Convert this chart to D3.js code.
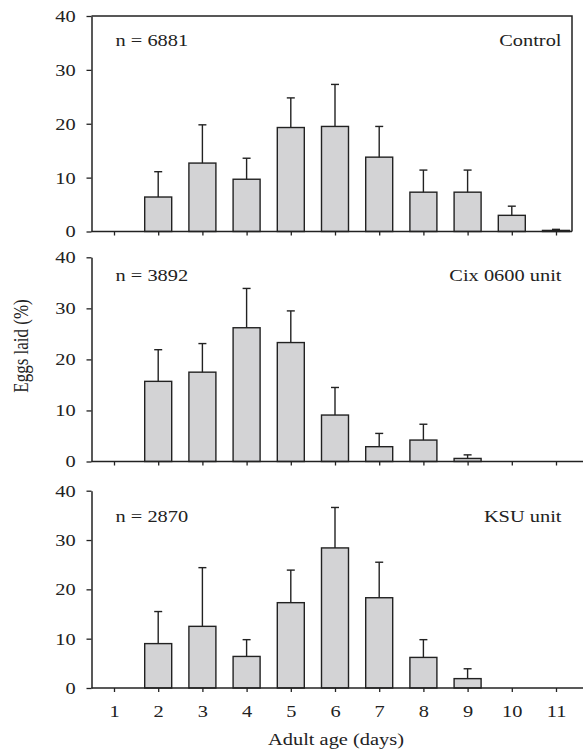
<!DOCTYPE html>
<html>
<head>
<meta charset="utf-8">
<script src="https://cdn.jsdelivr.net/npm/d3@7"></script>
<style>
  body { margin: 0; background: #fff; }
  text { font-family: "Liberation Serif", "Times New Roman", serif; fill: #222; }
</style>
</head>
<body>
<script>
// data
var days = ['1','2','3','4','5','6','7','8','9','10','11'];
var yTicks = [0, 10, 20, 30, 40];

var controlMean = [0, 6.4, 12.7, 9.7, 19.3, 19.5, 13.8, 7.3, 7.3, 3.0, 0.2];
var controlSd   = [0, 4.7, 7.1, 3.9, 5.5, 7.8, 5.7, 4.1, 4.1, 1.7, 0.2];

var cixMean = [0, 15.7, 17.5, 26.2, 23.3, 9.1, 2.9, 4.2, 0.6, 0, 0];
var cixSd   = [0, 6.2, 5.6, 7.7, 6.2, 5.4, 2.6, 3.1, 0.7, 0, 0];

var ksuMean = [0, 9.0, 12.5, 6.4, 17.3, 28.4, 18.3, 6.2, 1.9, 0, 0];
var ksuSd   = [0, 6.5, 11.9, 3.4, 6.6, 8.2, 7.2, 3.6, 2.0, 0, 0];

var panelNames = ['Control', 'Cix 0600 unit', 'KSU unit'];
var panelN = ['n = 6881', 'n = 3892', 'n = 2870'];

var W = 583, H = 752;
var ink = '#222';
var stretch = 'scale(1.2,1)';

var svg = d3.select('body').append('svg')
  .attr('width', W)
  .attr('height', H);

var x = d3.scalePoint().domain(days).range([114, 556]);
var barW = 27;
var left = 91.5;

var panels = [
  {mean: controlMean, sd: controlSd, top: 16, bottom: 231.5, right: 572, box: true, labelY: 46},
  {mean: cixMean, sd: cixSd, top: 257.3, bottom: 461.5, right: 583, box: false, labelY: 281},
  {mean: ksuMean, sd: ksuSd, top: 490.7, bottom: 688, right: 583, box: false, labelY: 521.5}
];

panels.forEach(function(p, i){
  var y = d3.scaleLinear().domain([0, 40]).range([p.bottom, p.top]);
  var data = days.map(function(d, j){ return {day: d, mean: p.mean[j], sd: p.sd[j]}; })
    .filter(function(d){ return d.mean > 0; });
  var g = svg.append('g');

  // bars
  g.selectAll('rect.bar').data(data).enter().append('rect')
    .attr('class', 'bar')
    .attr('x', function(d){ return x(d.day) - barW/2; })
    .attr('y', function(d){ return y(d.mean); })
    .attr('width', barW)
    .attr('height', function(d){ return y(0) - y(d.mean); })
    .attr('fill', '#d3d3d5')
    .attr('stroke', ink)
    .attr('stroke-width', 1.4);

  // error bars (upper only)
  g.selectAll('line.err').data(data).enter().append('line')
    .attr('class', 'err')
    .attr('x1', function(d){ return x(d.day); })
    .attr('x2', function(d){ return x(d.day); })
    .attr('y1', function(d){ return y(d.mean); })
    .attr('y2', function(d){ return y(d.mean + d.sd); })
    .attr('stroke', ink)
    .attr('stroke-width', 1.4);
  g.selectAll('line.cap').data(data).enter().append('line')
    .attr('class', 'cap')
    .attr('x1', function(d){ return x(d.day) - 4; })
    .attr('x2', function(d){ return x(d.day) + 4; })
    .attr('y1', function(d){ return y(d.mean + d.sd); })
    .attr('y2', function(d){ return y(d.mean + d.sd); })
    .attr('stroke', ink)
    .attr('stroke-width', 1.4);

  // y axis
  var ya = g.append('g')
    .attr('transform', 'translate(' + left + ',0)')
    .call(d3.axisLeft(y).tickValues(yTicks).tickSize(5).tickSizeOuter(0).tickPadding(8.2));
  ya.select('.domain').attr('stroke', ink).attr('stroke-width', 1.5);
  ya.selectAll('.tick line').attr('stroke', ink).attr('stroke-width', 1.3);
  ya.selectAll('.tick text')
    .attr('font-size', 17)
    .attr('font-family', '"Liberation Serif", serif')
    .attr('fill', ink)
    .attr('transform', stretch);

  // x axis
  var xa = g.append('g')
    .attr('transform', 'translate(0,' + p.bottom + ')')
    .call(d3.axisBottom(x).tickSize(4).tickSizeOuter(0).tickPadding(13)
      .tickFormat(i === 2 ? null : function(){ return ''; }));
  xa.select('.domain').remove();
  xa.selectAll('.tick line').attr('stroke', ink).attr('stroke-width', 1.3);
  xa.selectAll('.tick text')
    .attr('font-size', 17)
    .attr('font-family', '"Liberation Serif", serif')
    .attr('fill', ink)
    .attr('transform', stretch);
  g.append('line')
    .attr('x1', left).attr('x2', p.right)
    .attr('y1', p.bottom).attr('y2', p.bottom)
    .attr('stroke', ink).attr('stroke-width', 1.6);

  if (p.box) {
    g.append('path')
      .attr('d', 'M' + left + ',' + p.top + 'H' + p.right + 'V' + p.bottom)
      .attr('fill', 'none')
      .attr('stroke', ink)
      .attr('stroke-width', 1.5);
  }

  // panel labels
  g.append('text')
    .attr('transform', 'translate(115.5,' + p.labelY + ') ' + stretch)
    .attr('font-size', 17)
    .text(panelN[i]);
  g.append('text')
    .attr('transform', 'translate(561.5,' + p.labelY + ') ' + stretch)
    .attr('text-anchor', 'end')
    .attr('font-size', 17)
    .text(panelNames[i]);
});

// axis titles
svg.append('text')
  .attr('transform', 'translate(336,745) ' + stretch)
  .attr('text-anchor', 'middle')
  .attr('font-size', 17)
  .text('Adult age (days)');

svg.append('text')
  .attr('transform', 'translate(27.5,346) rotate(-90) scale(1,1.2)')
  .attr('text-anchor', 'middle')
  .attr('font-size', 17)
  .text('Eggs laid (%)');
</script>
</body>
</html>
